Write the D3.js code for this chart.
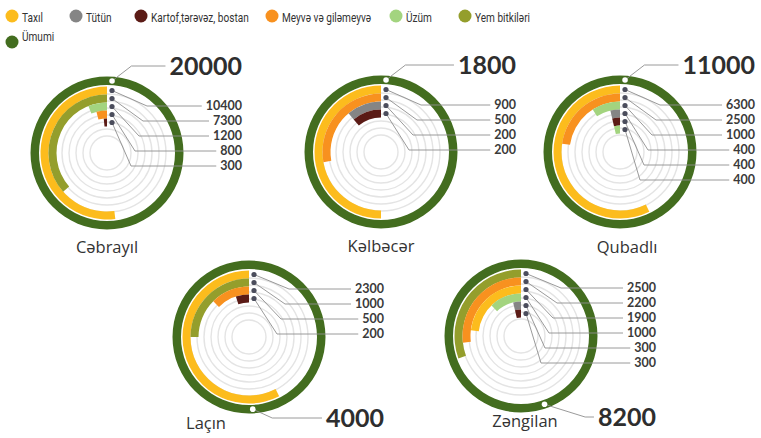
<!DOCTYPE html>
<html>
<head>
<meta charset="utf-8">
<script src="https://cdn.jsdelivr.net/npm/d3@7"></script>
<style>
    body { margin: 0; background: #fff; }
    svg { display: block; font-family: "Open Sans", sans-serif; }
</style>
</head>
<body>
<div id="chart"></div>
<script>
// Legend categories and their colours
const crops = ["Taxıl", "Tütün", "Kartof,tərəvəz, bostan", "Meyvə və giləmeyvə", "Üzüm", "Yem bitkiləri", "Ümumi"];
const cropColors = ["#fcbc1d", "#858585", "#5b1b16", "#f8911f", "#a3d47f", "#949e2c", "#436d1f"];

// Regions and their total values
const regions = ["Cəbrayıl", "Kəlbəcər", "Qubadlı", "Laçın", "Zəngilan"];
const totals = [20000, 1800, 11000, 4000, 8200];

// Per region series (outer ring to inner ring)
const cebrayilCrops = ["Taxıl", "Yem bitkiləri", "Üzüm", "Meyvə və giləmeyvə", "Kartof,tərəvəz, bostan"];
const cebrayilValues = [10400, 7300, 1200, 800, 300];

const kelbecerCrops = ["Taxıl", "Meyvə və giləmeyvə", "Tütün", "Kartof,tərəvəz, bostan"];
const kelbecerValues = [900, 500, 200, 200];

const qubadliCrops = ["Taxıl", "Meyvə və giləmeyvə", "Üzüm", "Tütün", "Kartof,tərəvəz, bostan", "Üzüm"];
const qubadliValues = [6300, 2500, 1000, 400, 400, 400];

const lacinCrops = ["Taxıl", "Yem bitkiləri", "Meyvə və giləmeyvə", "Kartof,tərəvəz, bostan"];
const lacinValues = [2300, 1000, 500, 200];

const zengilanCrops = ["Yem bitkiləri", "Meyvə və giləmeyvə", "Taxıl", "Üzüm", "Tütün", "Kartof,tərəvəz, bostan"];
const zengilanValues = [2500, 2200, 1900, 1000, 300, 300];

const regionCrops = [cebrayilCrops, kelbecerCrops, qubadliCrops, lacinCrops, zengilanCrops];
const regionValues = [cebrayilValues, kelbecerValues, qubadliValues, lacinValues, zengilanValues];

// Layout
const width = 761, height = 438;
const centers = [[107, 153], [381, 152], [620, 152], [249, 337], [521, 336]];
const totalDotAngle = [4, 4, 4, 177, 161];   // degrees, clockwise from top
const totalSlope = [1.3, 1.3, 1.3, 2.2, 3.2];
const nameOffset = [[0, 94], [0, 94], [7, 95], [-43, 86], [4, 85]];

const color = d3.scaleOrdinal().domain(crops).range(cropColors);

const svg = d3.select('#chart')
    .append('svg')
    .attr('width', width)
    .attr('height', height);

// Legend
const legendPos = [[12, 16], [76, 16], [141, 16], [272, 16], [396, 16], [465, 16], [12, 42]];
const legend = svg.append('g').attr('class', 'legend');
crops.forEach((c, i) => {
    const [lx, ly] = legendPos[i];
    legend.append('circle')
        .attr('cx', lx).attr('cy', ly)
        .attr('r', 6.5)
        .style('fill', color(c));
    legend.append('text')
        .attr('transform', `translate(${lx + 10},${i < 6 ? ly + 2 : ly - 5}) scale(0.84,1)`)
        .attr('dy', '0.35em')
        .style('font-family', 'Roboto, sans-serif')
        .style('font-size', '12px')
        .style('fill', '#333')
        .text(c);
});

const ringOuter = 76.5, ringInner = 68;
const bandTop = 66.5, bandW = 8;

regions.forEach((name, ri) => {
    const [cx, cy] = centers[ri];
    const total = totals[ri];
    const cropsR = regionCrops[ri];
    const values = regionValues[ri];
    const bottomRow = ri >= 3;

    const g = svg.append('g').attr('transform', `translate(${cx},${cy})`);
    const angle = d3.scaleLinear().domain([0, total]).range([0, -2 * Math.PI]);

    // background tracks
    g.selectAll('circle.track')
        .data(d3.range(7))
        .enter()
        .append('circle')
        .attr('class', 'track')
        .attr('r', k => 17 + 7 * k)
        .style('fill', 'none')
        .style('stroke', '#e4e4e4')
        .style('stroke-width', 1.4);

    // total ring
    g.append('path')
        .attr('d', d3.arc()
            .innerRadius(ringInner)
            .outerRadius(ringOuter)
            .startAngle(0)
            .endAngle(angle(total))())
        .style('fill', color('Ümumi'));

    // crop bands
    values.forEach((v, i) => {
        const outer = bandTop - bandW * i;
        g.append('path')
            .attr('d', d3.arc()
                .innerRadius(outer - bandW)
                .outerRadius(outer)
                .startAngle(0)
                .endAngle(angle(v))())
            .style('fill', color(cropsR[i]));
    });

    // value labels with leader lines
    values.forEach((v, i) => {
        const dotY = -(bandTop - bandW * i - bandW / 2);
        const labelY = (bottomRow ? -48 : -47) + 15 * i;
        const label = g.append('text')
            .attr('x', 135)
            .attr('y', labelY)
            .attr('dy', '0.35em')
            .attr('text-anchor', 'end')
            .style('font-family', 'Lato, sans-serif')
            .style('font-size', '12.5px')
            .style('font-weight', 'bold')
            .style('fill', '#3a3a3a')
            .text(d3.format('d')(v));
        const left = 135 - label.node().getComputedTextLength() - 4;
        g.append('path')
            .attr('d', d3.line()([[5, dotY], [40 - 4 * i, labelY], [left, labelY]]))
            .style('fill', 'none')
            .style('stroke', '#8f8f8f')
            .style('stroke-width', 0.9);
        g.append('circle')
            .attr('cx', 5).attr('cy', dotY)
            .attr('r', 2.6)
            .style('fill', '#4b4d5c');
    });

    // total callout
    const a = totalDotAngle[ri] * Math.PI / 180;
    const rm = (ringInner + ringOuter) / 2;
    const dot = [rm * Math.sin(a), -rm * Math.cos(a)];
    const ty = bottomRow ? 81 : -87;
    const bend = [dot[0] + Math.abs(ty - dot[1]) * totalSlope[ri], ty];
    const totalLabel = g.append('text')
        .attr('x', 135)
        .attr('y', ty)
        .attr('dy', '0.35em')
        .attr('text-anchor', 'end')
        .style('font-family', 'Lato, sans-serif')
        .style('font-size', '25px')
        .style('font-weight', 'bold')
        .style('fill', '#2e2e2e')
        .text(d3.format('d')(total));
    const tl = 135 - totalLabel.node().getComputedTextLength() - 4;
    g.append('path')
        .attr('d', d3.line()([dot, bend, [tl, ty]]))
        .style('fill', 'none')
        .style('stroke', '#8f8f8f')
        .style('stroke-width', 0.9);
    g.append('circle')
        .attr('cx', dot[0]).attr('cy', dot[1])
        .attr('r', 2.8)
        .style('fill', '#fff');

    // region name
    g.append('text')
        .attr('x', nameOffset[ri][0])
        .attr('y', nameOffset[ri][1])
        .attr('dy', '0.35em')
        .attr('text-anchor', 'middle')
        .style('font-size', '16.5px')
        .style('fill', '#333')
        .text(name);
});
</script>
</body>
</html>
